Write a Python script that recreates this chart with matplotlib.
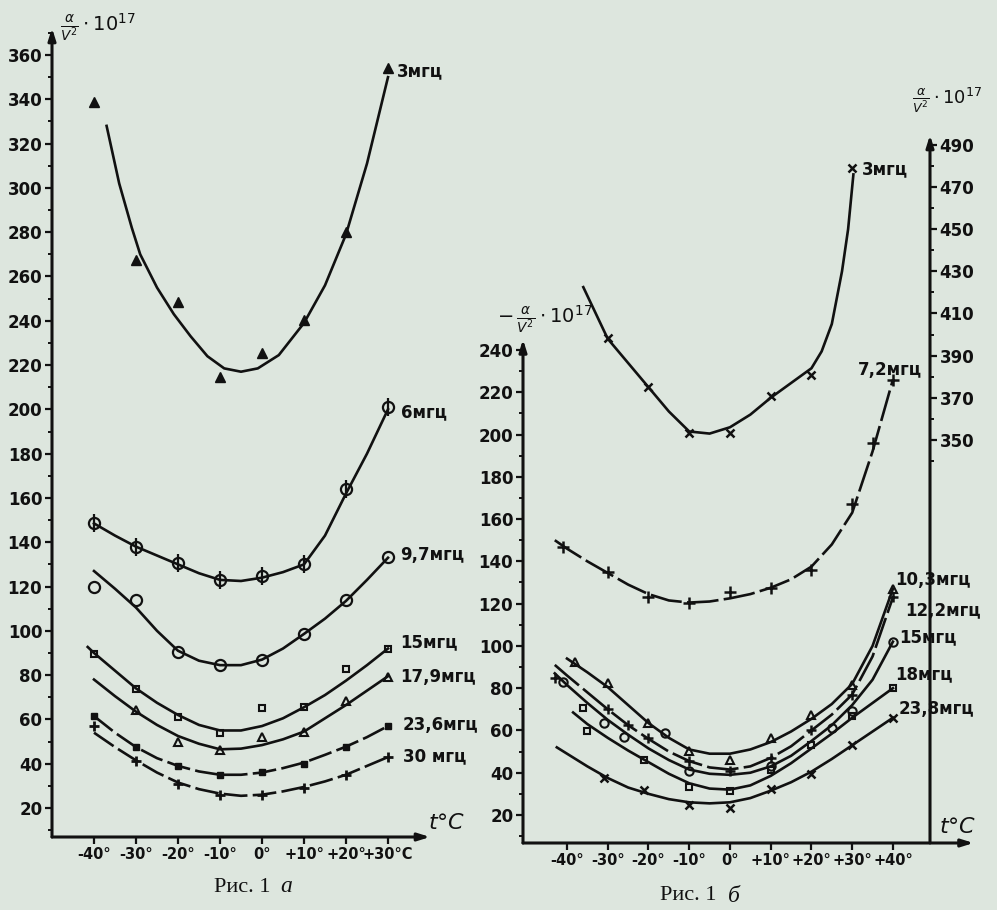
import numpy as np
import matplotlib.pyplot as plt
from matplotlib.ticker import MultipleLocator, FixedLocator

plt.rcParams['font.family'] = ['DejaVu Sans']
plt.rcParams['mathtext.fontset'] = 'dejavusans'

# ---------------- Рис. 1 а ----------------
a_t = [-40, -30, -20, -10, 0, 10, 20, 30]
a3_pts = [339, 267.4, 248.6, 214.7, 225.3, 240.3, 280, 354]
a6_pts = [148.5, 138, 130.5, 123, 124.7, 130, 164, 201]
a97_pts = [120, 114, 90.6, 84.6, 86.8, 98.6, 114, 133.3]
a15_pts = [89.5, 73.7, 61, 54, 65, 65.7, 82.6, 92]
a179_t = [-30, -20, -10, 0, 10, 20, 30]
a179_pts = [64.3, 50, 46, 52.2, 54.4, 68.4, 79.3]
a236_pts = [61.5, 47.7, 39, 35, 36.4, 40, 47.7, 57]
a30_pts = [57, 41.4, 31, 26, 26, 29, 35, 43]

# сглаженные кривые
a3_ct = [-37, -34, -31, -29, -25, -21, -17, -13, -9, -5, -1, 4, 10, 15, 20, 25, 30]
a3_cv = [328, 302, 282, 270, 255, 243, 233, 224, 218.5, 217, 218.5, 224.5, 239, 256, 279, 311, 350]
a_ct = [-40, -35, -30, -25, -20, -15, -10, -5, 0, 5, 10, 15, 20, 25, 30]
a6_cv = [148.5, 143, 138, 134, 130, 126, 123, 122.5, 124, 126.5, 130, 143, 162, 180, 200]
a97_cv = [127, 119, 110.5, 100, 91, 86.5, 84.5, 84.5, 87, 92, 98.6, 105.5, 113.5, 123, 133]
a15_ct = [-41.5, -40, -35, -30, -25, -20, -15, -10, -5, 0, 5, 10, 15, 20, 25, 30]
a15_cv = [92.7, 90, 82, 74, 67.5, 62, 57.5, 55, 55, 57, 60.5, 65.5, 71, 77.5, 84.5, 92]
a179_cv = [78, 70.5, 63.5, 57.5, 52.5, 49, 46.5, 46.8, 48.4, 51, 54.5, 60.5, 66.5, 73, 79.5]
a236_cv = [61.5, 54, 47.5, 42.5, 39, 36.5, 35, 35, 36, 38, 40.5, 44, 47.7, 52, 57]
a30_cv = [54, 47.5, 41.5, 36, 31.5, 28.5, 26.5, 25.5, 26, 27.5, 29.5, 32, 35, 39, 43]

a_xticks = [-40, -30, -20, -10, 0, 10, 20, 30]
a_xlabels = ['-40°', '-30°', '-20°', '-10°', '0°', '+10°', '+20°', '+30°C']

# ---------------- Рис. 1 б ----------------
b3_t = [-30, -20, -10, 0, 10, 20, 30]
b3_pts = [398.3, 375.3, 353.2, 353.2, 370.9, 380.8, 479]
b3_ct = [-36, -30, -25, -20, -15, -10, -5, 0, 5, 10, 15, 20, 22.5, 25, 27.5, 29, 30.3]
b3_cv = [422.5, 398, 386.5, 375, 363.5, 354, 353, 356, 362, 370, 377, 384, 392, 405, 430, 450, 476]

b72_t = [-41, -30, -20, -10, 0, 10, 20, 30, 35, 40]
b72_pts = [146.8, 135, 123.3, 120.1, 125.6, 127.2, 135.8, 167, 195.8, 226]
b_ct = [-43, -40, -35, -30, -25, -20, -15, -10, -5, 0, 5, 10, 15, 20, 25, 30, 35, 40]
b72_cv = [150, 146, 140, 134.5, 129, 124.5, 121.5, 120.5, 121, 122.5, 124.5, 127.5, 131.5, 137.5, 148, 163, 192, 226]

b103_t = [-38, -30, -20, -10, 0, 10, 20, 30, 40]
b103_pts = [92.4, 82.6, 63.6, 50.5, 45.8, 56.2, 67.2, 81.7, 127]
b103_ct = [-40, -35, -30, -25, -20, -15, -10, -5, 0, 5, 10, 15, 20, 25, 30, 35, 40]
b103_cv = [94, 87.5, 80.5, 72, 63.5, 56.5, 51, 49, 49, 51, 54.5, 59.5, 65.5, 72.5, 82, 100, 127]

b122_t = [-43, -30, -25, -20, -10, 0, 10, 20, 30, 40]
b122_pts = [84.7, 70.2, 62.8, 56.2, 45.5, 40.9, 47, 60, 77, 123]
b122_cv = [91, 86, 78, 70, 62.5, 56, 50, 45.5, 42.5, 41.5, 43, 47, 52.5, 60, 67.5, 77, 95, 123]

b15_t = [-41, -31, -26, -16, -10, 10, 25, 30, 40]
b15_pts = [83, 63.6, 57, 58.7, 40.9, 43, 61, 69, 102]
b15_cv = [87, 81.5, 73, 65, 58, 51.5, 46, 41.5, 39.5, 39, 40, 43, 48, 55, 62.5, 72, 84, 102]

b18_t = [-36, -35, -21, -10, 0, 10, 20, 30, 40]
b18_pts = [70.5, 59.5, 45.8, 33.2, 31.5, 41.4, 53, 67, 80]
b18_ct = [-38.5, -35, -30, -25, -20, -15, -10, -5, 0, 5, 10, 15, 20, 25, 30, 35, 40]
b18_cv = [68.5, 63, 56.5, 50.5, 45, 39.5, 35, 32.5, 32, 34, 38.5, 44.5, 51.5, 58.5, 66, 73, 80]

b238_t = [-31, -21, -10, 0, 10, 20, 30, 40]
b238_pts = [37.3, 32, 24.9, 23.3, 32.3, 39.3, 52.9, 66]
b238_ct = [-42.5, -40, -35, -30, -25, -20, -15, -10, -5, 0, 5, 10, 15, 20, 25, 30, 35, 40]
b238_cv = [52, 49, 43, 37.5, 33, 30, 27.5, 26, 25.5, 26, 28, 31.5, 35.5, 40.5, 46.5, 53, 59.5, 66]

b_xticks = [-40, -30, -20, -10, 0, 10, 20, 30, 40]
b_xlabels = ['-40°', '-30°', '-20°', '-10°', '0°', '+10°', '+20°', '+30°', '+40°']

bg = '#dde6de'
K = '#111111'
LW = 1.9
DASH = (9, 2)

fig = plt.figure(figsize=(9.97, 9.10), dpi=100, facecolor=bg)

lblfont = dict(fontsize=12, fontweight='bold', color=K)


def arrow(ax, xy0, xy1, coords='axes fraction'):
    ax.annotate('', xy=xy1, xytext=xy0, xycoords=coords, textcoords=coords,
                annotation_clip=False,
                arrowprops=dict(arrowstyle='-|>,head_length=0.7,head_width=0.22',
                                lw=2.2, color=K, shrinkA=0, shrinkB=0))


def style_axis(ax):
    ax.set_facecolor('none')
    for s in ax.spines.values():
        s.set_visible(False)
    ax.tick_params(axis='both', which='major', length=5, width=1.6, color=K, pad=2)
    ax.tick_params(axis='both', which='minor', length=3, width=1.4, color=K)
    for lab in ax.get_yticklabels():
        lab.set_fontweight('bold')
        lab.set_fontsize(12)
        lab.set_color(K)
    for lab in ax.get_xticklabels():
        lab.set_fontweight('bold')
        lab.set_fontsize(10.5)
        lab.set_color(K)


# ---------- левая панель ----------
axA = fig.add_axes([52 / 997, 73 / 910, 378 / 997, 809 / 910])
axA.set_xlim(-50, 40)
axA.set_ylim(6.9, 372.2)
axA.set_yticks(np.arange(20, 361, 20))
axA.yaxis.set_minor_locator(MultipleLocator(10))
axA.set_xticks(a_xticks)
axA.set_xticklabels(a_xlabels)
style_axis(axA)
arrow(axA, (0, 0), (0, 1))
arrow(axA, (0, 0), (1, 0))

axA.plot(a3_ct, a3_cv, color=K, lw=LW)
axA.plot(a_t, a3_pts, '^', color=K, ms=7, clip_on=False)
axA.plot(a_ct, a6_cv, color=K, lw=LW)
axA.plot(a_t, a6_pts, 'o', mfc='none', mec=K, ms=8, mew=1.6)
axA.plot(a_t, a6_pts, '|', color=K, ms=13, mew=1.6)
axA.plot(a_ct, a97_cv, color=K, lw=LW)
axA.plot(a_t, a97_pts, 'o', mfc='none', mec=K, ms=8, mew=1.6)
axA.plot(a15_ct, a15_cv, color=K, lw=LW)
axA.plot(a_t, a15_pts, 's', mfc='none', mec=K, ms=5, mew=1.5)
axA.plot(a_ct, a179_cv, color=K, lw=LW)
axA.plot(a179_t, a179_pts, '^', mfc='none', mec=K, ms=6, mew=1.5)
axA.plot(a_ct, a236_cv, color=K, lw=LW, dashes=DASH)
axA.plot(a_t, a236_pts, 's', color=K, ms=4)
axA.plot(a_ct, a30_cv, color=K, lw=LW, dashes=DASH)
axA.plot(a_t, a30_pts, '+', color=K, ms=7, mew=2)

for x, y, s in [(32.0, 352.5, '3мгц'), (33.0, 198.8, '6мгц'), (33.0, 134.2, '9,7мгц'),
                (33.0, 95.0, '15мгц'), (33.0, 79.0, '17,9мгц'), (33.5, 57.5, '23,6мгц'),
                (33.5, 43.5, '30 мгц')]:
    axA.text(x, y, s, ha='left', va='center', clip_on=False, **lblfont)

fig.text(60 / 997, 1 - 28 / 910, r'$\frac{\alpha}{V^2}\cdot 10^{17}$', fontsize=14,
         ha='left', va='center', color=K)
fig.text(447 / 997, 1 - 823 / 910, r'$t$°C', fontsize=16, ha='center', va='center',
         color=K, style='italic')
fig.text(270 / 997, 1 - 887 / 910, 'Рис. 1', fontsize=16, ha='right', va='center',
         family='Liberation Serif', color=K)
fig.text(280 / 997, 1 - 887 / 910, 'а', fontsize=17, ha='left', va='center',
         family='Liberation Serif', style='italic', color=K)

# ---------- правая панель ----------
axB = fig.add_axes([523 / 997, 67 / 910, 407 / 997, 708 / 910])
axB.set_xlim(-50.8, 49.1)
axB.set_ylim(6.75, 341.7)
axB.set_yticks(np.arange(20, 241, 20))
axB.yaxis.set_minor_locator(FixedLocator(np.arange(10, 241, 10)))
axB.set_xticks(b_xticks)
axB.set_xticklabels(b_xlabels)
style_axis(axB)

axR = axB.twinx()
axR.set_ylim(158.7, 494.7)
axR.set_yticks(np.arange(350, 491, 20))
axR.yaxis.set_minor_locator(FixedLocator(np.arange(340, 491, 10)))
style_axis(axR)

arrow(axB, (0, 6.75), (0, 245), coords=('axes fraction', 'data'))
arrow(axB, (0, 0), (1.107, 0))
arrow(axB, (1, 0), (1, 1))

axR.plot(b3_ct, b3_cv, color=K, lw=LW)
axR.plot(b3_t, b3_pts, 'x', color=K, ms=6, mew=1.8)

axB.plot(b_ct, b72_cv, color=K, lw=LW, dashes=(12, 2))
axB.plot(b72_t, b72_pts, '+', color=K, ms=8, mew=1.8)
axB.plot(b103_ct, b103_cv, color=K, lw=LW)
axB.plot(b103_t, b103_pts, '^', mfc='none', mec=K, ms=6, mew=1.5)
axB.plot(b_ct, b122_cv, color=K, lw=LW, dashes=(12, 2))
axB.plot(b122_t, b122_pts, '+', color=K, ms=7, mew=1.8)
axB.plot(b_ct, b15_cv, color=K, lw=LW)
axB.plot(b15_t, b15_pts, 'o', mfc='none', mec=K, ms=6, mew=1.5)
axB.plot(b18_ct, b18_cv, color=K, lw=LW)
axB.plot(b18_t, b18_pts, 's', mfc='none', mec=K, ms=5, mew=1.5)
axB.plot(b238_ct, b238_cv, color=K, lw=LW)
axB.plot(b238_t, b238_pts, 'x', color=K, ms=6, mew=1.8)

for x, y, s in [(32.5, 325.6, '3мгц'), (31.5, 230.5, '7,2мгц'), (40.5, 131.0, '10,3мгц'),
                (43.0, 116.5, '12,2мгц'), (41.5, 104.0, '15мгц'), (40.5, 86.5, '18мгц'),
                (41.5, 70.0, '23,8мгц')]:
    axB.text(x, y, s, ha='left', va='center', clip_on=False, **lblfont)

fig.text(497 / 997, 1 - 320 / 910, r'$-\,\frac{\alpha}{V^2}\cdot 10^{17}$', fontsize=14,
         ha='left', va='center', color=K)
fig.text(912 / 997, 1 - 100 / 910, r'$\frac{\alpha}{V^2}\cdot 10^{17}$', fontsize=13,
         ha='left', va='center', color=K)
fig.text(958 / 997, 1 - 827 / 910, r'$t$°C', fontsize=16, ha='center', va='center',
         color=K, style='italic')
fig.text(716 / 997, 1 - 896 / 910, 'Рис. 1', fontsize=16, ha='right', va='center',
         family='Liberation Serif', color=K)
fig.text(728 / 997, 1 - 896 / 910, 'б', fontsize=17, ha='left', va='center',
         family='Liberation Serif', style='italic', color=K)

fig.savefig('out.png', dpi=100, facecolor=bg)
